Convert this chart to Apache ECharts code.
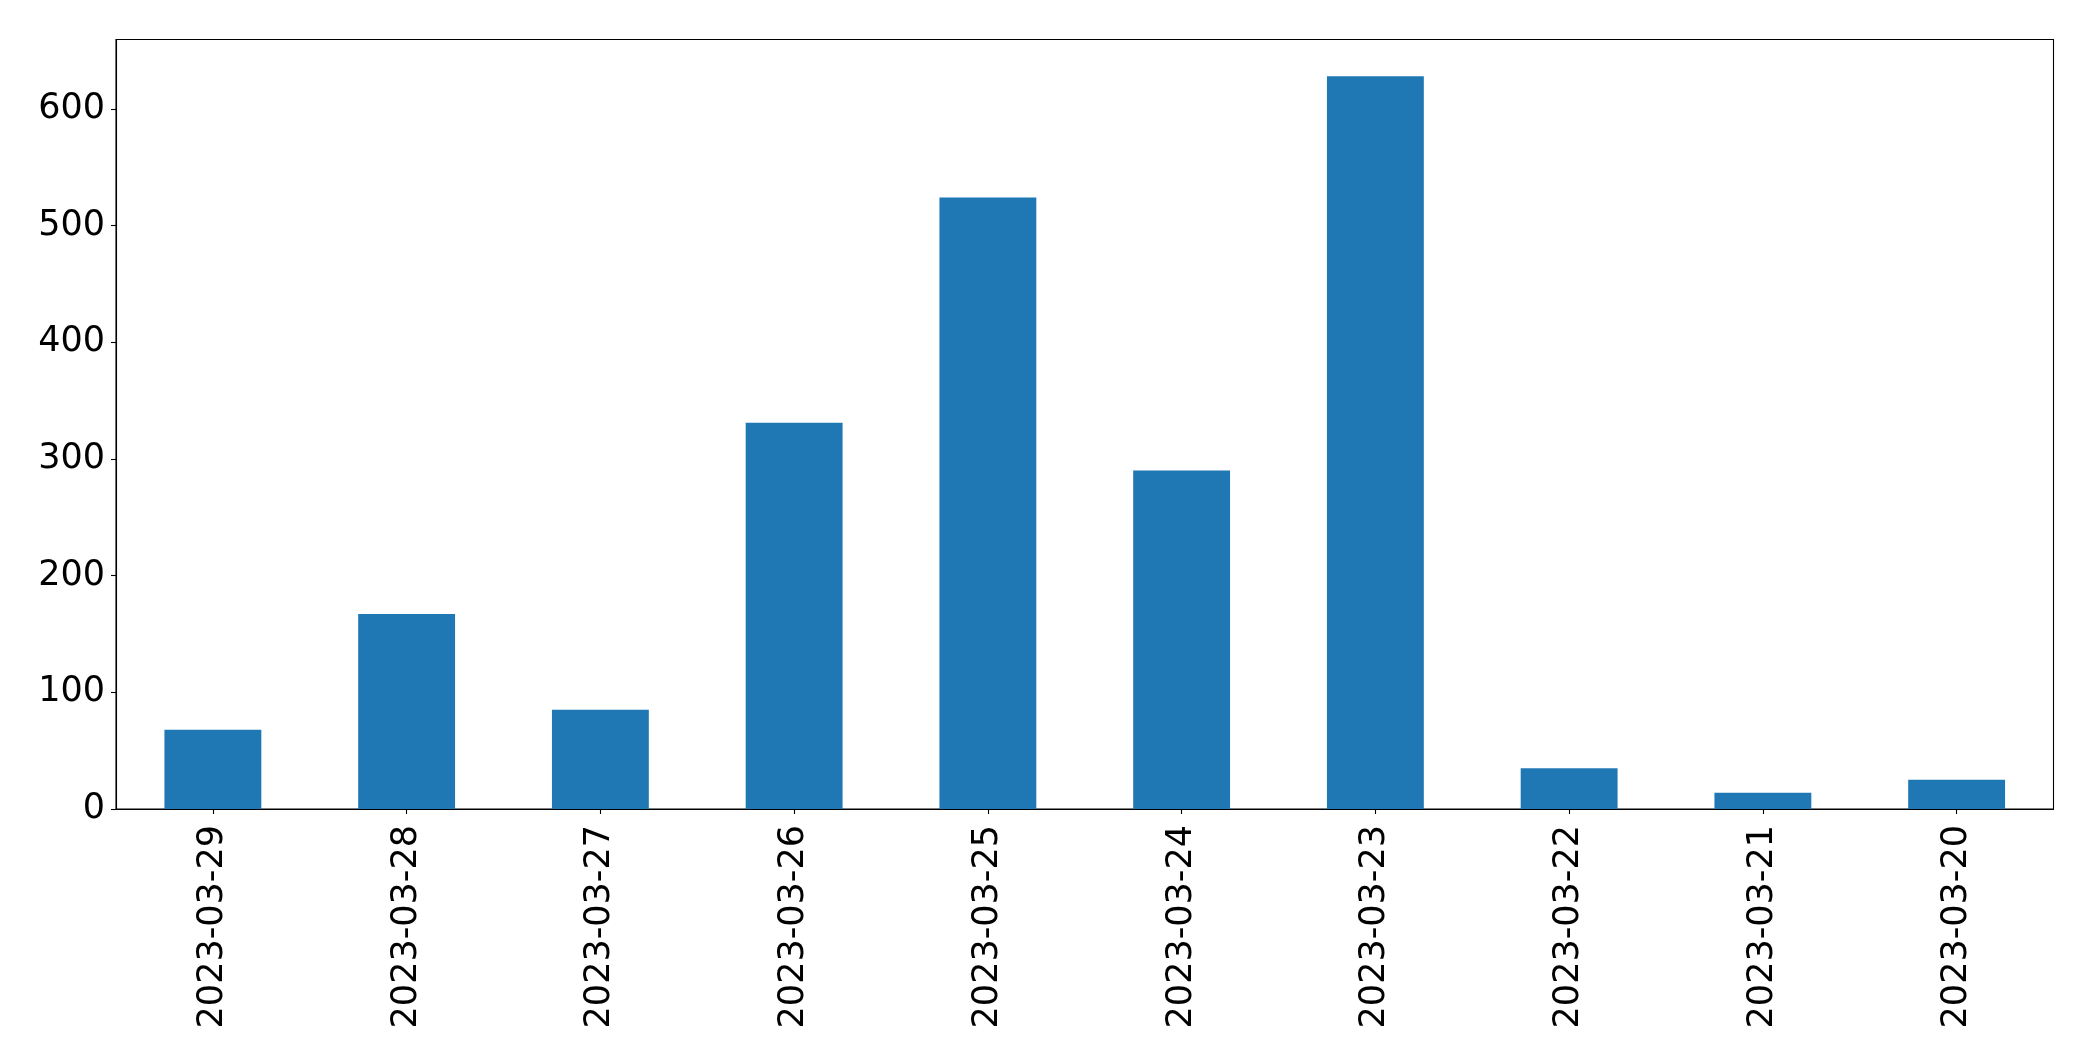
<!DOCTYPE html>
<html>
<head>
<meta charset="utf-8">
<script src="https://cdn.jsdelivr.net/npm/echarts@6/dist/echarts.min.js"></script>
<style>
html,body{margin:0;padding:0;background:#fff;}
#chart{width:2093px;height:1061px;}
</style>
</head>
<body>
<div id="chart"></div>
<script>
const categories = ['2023-03-29','2023-03-28','2023-03-27','2023-03-26','2023-03-25','2023-03-24','2023-03-23','2023-03-22','2023-03-21','2023-03-20'];
const values = [68, 167, 85, 331, 524, 290, 628, 35, 14, 25];
const yTicks = [0, 100, 200, 300, 400, 500, 600];

const chart = echarts.init(document.getElementById('chart'), null, {renderer: 'canvas'});
const font = 'DejaVu Sans';
chart.setOption({
  animation: false,
  backgroundColor: '#ffffff',
  grid: {
    left: 116, top: 39.5, right: 39.5, bottom: 252,
    show: true, borderColor: '#000', borderWidth: 1.1, backgroundColor: 'transparent'
  },
  xAxis: {
    type: 'category',
    data: categories,
    axisLine: {show: true, lineStyle: {color: '#000', width: 1.1}},
    axisTick: {show: true, alignWithLabel: true, length: 5, lineStyle: {color: '#000', width: 1.1}},
    axisLabel: {rotate: 90, color: '#000', fontFamily: font, fontSize: 35, margin: 16, interval: 0},
    splitLine: {show: false}
  },
  yAxis: {
    type: 'value',
    min: 0,
    max: 659.4,
    interval: 100,
    axisLine: {show: true, lineStyle: {color: '#000', width: 1.1}},
    axisTick: {show: true, length: 5, customValues: yTicks, lineStyle: {color: '#000', width: 1.1}},
    axisLabel: {
      color: '#000', fontFamily: font, fontSize: 35, margin: 11,
      customValues: yTicks,
      formatter: function (v) { return yTicks.indexOf(v) >= 0 ? String(v) : ''; }
    },
    splitLine: {show: false}
  },
  series: [{
    type: 'bar',
    data: values,
    barWidth: '50%',
    itemStyle: {color: '#1f77b4'}
  }]
});
</script>
</body>
</html>
